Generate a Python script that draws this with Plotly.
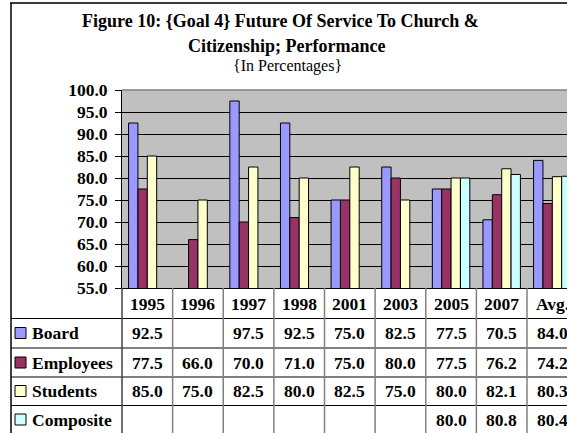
import plotly.graph_objects as go

# Survey years plus the average column
categories = ["1995", "1996", "1997", "1998", "2001", "2003", "2005", "2007", "Avg."]

board = [92.5, None, 97.5, 92.5, 75.0, 82.5, 77.5, 70.5, 84.0]
employees = [77.5, 66.0, 70.0, 71.0, 75.0, 80.0, 77.5, 76.2, 74.2]
students = [85.0, 75.0, 82.5, 80.0, 82.5, 75.0, 80.0, 82.1, 80.3]
composite = [None, None, None, None, None, None, 80.0, 80.8, 80.4]

series_names = ["Board", "Employees", "Students", "Composite"]
series_values = [board, employees, students, composite]
series_colors = ["#9999FF", "#993366", "#FFFFCC", "#CCFFFF"]

y_ticks = [55.0, 60.0, 65.0, 70.0, 75.0, 80.0, 85.0, 90.0, 95.0, 100.0]

# ---- page geometry (pixels) ----
FW, FH = 567, 433
L, T = 122, 90          # plot area left / top
PB = 288                # plot area bottom
W, H = FW - L, PB - T
SERIF = "Liberation Serif"
TXT = 17.5              # table / tick text size


def xp(p):
    """pixel x -> paper x"""
    return (p - L) / W


def yp(p):
    """pixel y -> paper y"""
    return (PB - p) / H


fig = go.Figure()
for name, vals, col in zip(series_names, series_values, series_colors):
    fig.add_trace(go.Bar(
        x=categories, y=vals, name=name,
        marker=dict(color=col, line=dict(color="black", width=1)),
        showlegend=False, hoverinfo="x+y+name",
    ))

shapes = []
annotations = []

# title block
annotations.append(dict(text="<b>Figure 10: {Goal 4} Future Of Service To Church &</b>",
                        x=xp(280), y=yp(21), xref="paper", yref="paper",
                        showarrow=False, xanchor="center", yanchor="middle",
                        font=dict(family=SERIF, size=18, color="black")))
annotations.append(dict(text="<b>Citizenship; Performance</b>",
                        x=xp(286), y=yp(46), xref="paper", yref="paper",
                        showarrow=False, xanchor="center", yanchor="middle",
                        font=dict(family=SERIF, size=18, color="black")))
annotations.append(dict(text="{In Percentages}",
                        x=xp(287.5), y=yp(66), xref="paper", yref="paper",
                        showarrow=False, xanchor="center", yanchor="middle",
                        font=dict(family=SERIF, size=16, color="black")))

# ---- data table under the plot ----
row_lines = [318.5, 348, 377, 405.5]
row_centers = [304, 333, 362.5, 391, 419.5]   # header, then one per series

# horizontal rules
for yl in row_lines:
    shapes.append(dict(type="line", xref="paper", yref="paper",
                       x0=xp(11), x1=1, y0=yp(yl), y1=yp(yl),
                       line=dict(color="black", width=1)))
# vertical rules between categories
for k in range(len(categories) - 1):
    shapes.append(dict(type="line", xref="x", yref="paper",
                       x0=k + 0.5, x1=k + 0.5, y0=0, y1=yp(FH + 5),
                       line=dict(color="#808080", width=1.5), layer="above"))
# rule between row labels and the table body
shapes.append(dict(type="line", xref="paper", yref="paper",
                   x0=0, x1=0, y0=0, y1=yp(FH + 5),
                   line=dict(color="#404040", width=1.5)))

# year header (positions given as category index)
for j, c in enumerate(categories):
    annotations.append(dict(text=f"<b>{c}</b>", x=j, y=yp(row_centers[0]),
                            xref="x", yref="paper", showarrow=False,
                            xanchor="center", yanchor="middle",
                            font=dict(family=SERIF, size=TXT, color="black")))

# series rows
for i, (name, vals, col) in enumerate(zip(series_names, series_values, series_colors)):
    yc = row_centers[i + 1]
    shapes.append(dict(type="rect", xref="paper", yref="paper",
                       x0=xp(15), x1=xp(26), y0=yp(yc - 5.5), y1=yp(yc + 5.5),
                       fillcolor=col, line=dict(color="black", width=1)))
    annotations.append(dict(text=f"<b>{name}</b>", x=xp(30), y=yp(yc),
                            xref="paper", yref="paper", showarrow=False,
                            xanchor="left", yanchor="middle",
                            font=dict(family=SERIF, size=TXT, color="black")))
    for j, v in enumerate(vals):
        if v is None:
            continue
        annotations.append(dict(text=f"<b>{v:.1f}</b>", x=j, y=yp(yc),
                                xref="x", yref="paper", showarrow=False,
                                xanchor="center", yanchor="middle",
                                font=dict(family=SERIF, size=TXT, color="black")))

# gray top edge of the plot area
shapes.append(dict(type="line", xref="paper", yref="paper",
                   x0=0, x1=1, y0=1, y1=1,
                   line=dict(color="#808080", width=1.5), layer="above"))

# chart frame
shapes.append(dict(type="line", xref="paper", yref="paper",
                   x0=xp(10), x1=xp(FW + 5), y0=yp(3), y1=yp(3),
                   line=dict(color="#3a3a3a", width=2)))
shapes.append(dict(type="line", xref="paper", yref="paper",
                   x0=xp(11), x1=xp(11), y0=yp(3), y1=yp(FH + 5),
                   line=dict(color="black", width=1.5)))

fig.update_layout(
    width=FW, height=FH, autosize=False,
    margin=dict(l=L, r=0, t=T, b=FH - PB, pad=0),
    paper_bgcolor="white", plot_bgcolor="#C0C0C0",
    barmode="group", bargap=0.26, bargroupgap=0,
    shapes=shapes, annotations=annotations,
    showlegend=False,
    xaxis=dict(type="category", range=[-0.5, 8.29], showticklabels=False,
               ticks="", showgrid=False, zeroline=False,
               showline=True, linecolor="black", linewidth=1),
    yaxis=dict(range=[55, 100], tickvals=y_ticks,
               ticktext=[f"{v:.1f}" for v in y_ticks],
               showgrid=True, gridcolor="black", gridwidth=1,
               zeroline=False, showline=True, linecolor="black", linewidth=1,
               ticks="outside", ticklen=6, tickcolor="black", tickwidth=1,
               ticklabelstandoff=4,
               tickfont=dict(family=SERIF, size=TXT, color="black", weight="bold")),
)

fig.write_html("out.html")
